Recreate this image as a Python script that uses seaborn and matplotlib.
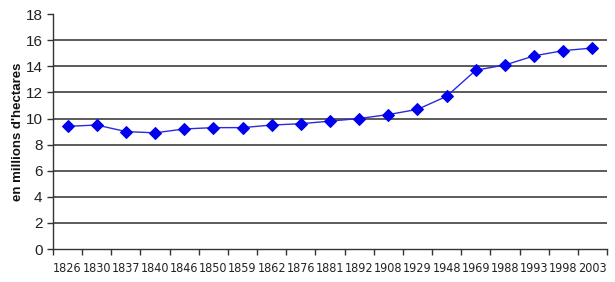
import matplotlib
matplotlib.use("Agg")
import matplotlib.pyplot as plt
import seaborn as sns
import pandas as pd
import numpy as np
from matplotlib.ticker import FixedLocator

years = ["1826", "1830", "1837", "1840", "1846", "1850", "1859", "1862", "1876", "1881",
         "1892", "1908", "1929", "1948", "1969", "1988", "1993", "1998", "2003"]
surface = [9.4, 9.5, 9.0, 8.9, 9.2, 9.3, 9.3, 9.5, 9.6, 9.8,
           10.0, 10.3, 10.7, 11.7, 13.7, 14.1, 14.8, 15.2, 15.4]
y_ticks = [0, 2, 4, 6, 8, 10, 12, 14, 16, 18]
y_label = "en millions d'hectares"

df = pd.DataFrame({"annee": years, "surface": surface})

sns.set_theme(style="white")
plt.rcParams['font.family'] = ['Liberation Sans', 'DejaVu Sans']

fig = plt.figure(figsize=(6.15, 2.82), dpi=100)
ax = fig.add_axes([0.0862, 0.117, 0.9008, 0.833])

sns.lineplot(data=df, x="annee", y="surface", sort=False, ax=ax,
             color="#2a2ae0", linewidth=1.0, marker="D", markersize=6,
             markerfacecolor="#0000ee", markeredgecolor="#0000ee", zorder=3)

n = len(years)
ax.set_xlim(-0.5, n - 0.5)
ax.set_ylim(0, 18)
ax.set_yticks(y_ticks)
ax.set_yticklabels([str(v) for v in y_ticks])
for v in y_ticks[1:-1]:
    ax.axhline(v, color="#404040", linewidth=1.2, zorder=1)

ax.set_xticks(range(n))
ax.set_xticklabels(years, family='DejaVu Sans', fontstretch='condensed', fontsize=9)
ax.xaxis.set_minor_locator(FixedLocator(np.arange(-0.5, n, 1.0)))
ax.tick_params(axis="x", which="major", length=0, pad=9, colors="#222222")
ax.tick_params(axis="x", which="minor", length=4, width=1, color="#333333", direction="out", bottom=True)
ax.tick_params(axis="y", which="major", length=4, width=1, color="#333333", direction="out",
               left=True, labelsize=11, labelcolor="#222222")

for s in ["top", "right"]:
    ax.spines[s].set_visible(False)
for s in ["left", "bottom"]:
    ax.spines[s].set_color("#333333")
    ax.spines[s].set_linewidth(1.0)

ax.set_xlabel("")
ax.set_ylabel(y_label, fontsize=9.5, fontweight="bold", labelpad=1, color="#111111")
ax.grid(False)

fig.savefig("out.png", dpi=100, facecolor="white")
